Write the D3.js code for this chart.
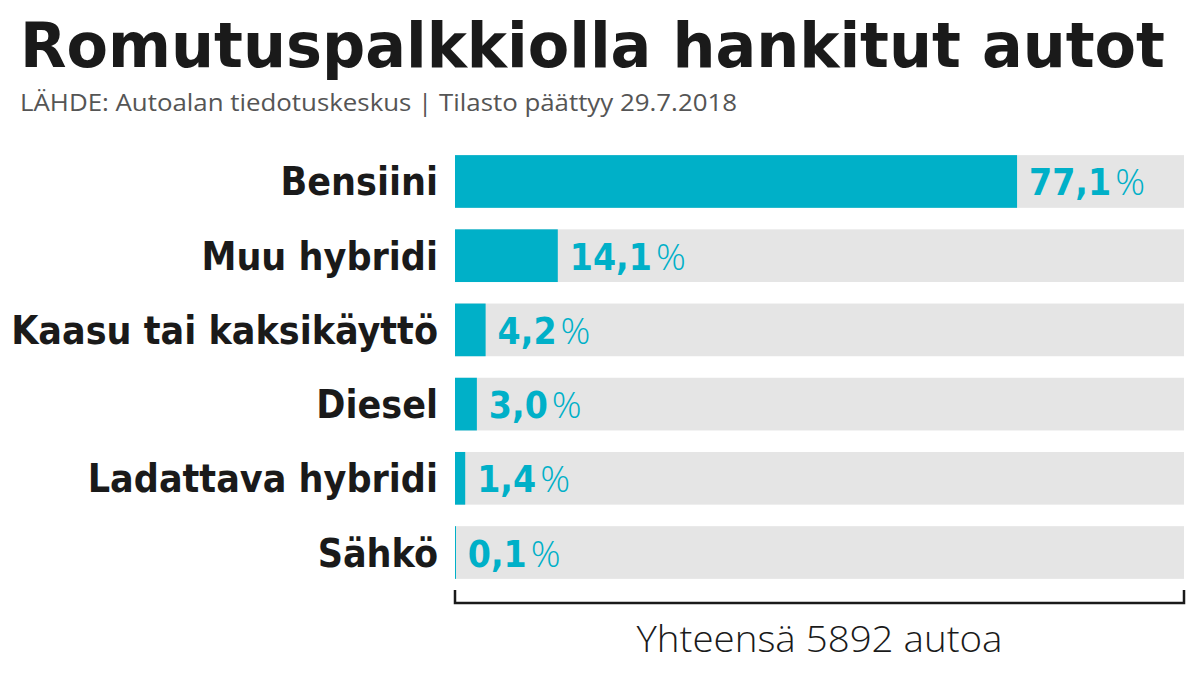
<!DOCTYPE html>
<html><head><meta charset="utf-8">
<script src="https://cdn.jsdelivr.net/npm/d3@7"></script>
<style>body{margin:0;background:#fff}</style></head>
<body><svg id="c" width="1199" height="675"></svg>
<script>
const categories = ["Bensiini","Muu hybridi","Kaasu tai kaksikäyttö","Diesel","Ladattava hybridi","Sähkö"];
const values = [77.1,14.1,4.2,3.0,1.4,0.1];
const valueLabels = ["77,1","14,1","4,2","3,0","1,4","0,1"];
const title = "Romutuspalkkiolla hankitut autot";
const subtitle = "LÄHDE: Autoalan tiedotuskeskus | Tilasto päättyy 29.7.2018";
const total = "Yhteensä 5892 autoa";

const svg = d3.select("#c");
const teal = "#00b0c8";
const x = d3.scaleLinear().domain([0,100]).range([455,1184]);
const y = d3.scaleBand().domain(categories).range([144,590]).paddingInner(0.29).paddingOuter(0.15);

svg.append("text").attr("x",20).attr("y",67).text(title)
  .attr("font-family","DejaVu Sans Condensed").attr("font-weight","bold").attr("font-size",62)
  .attr("fill","#1a1a1a").attr("textLength",1145).attr("lengthAdjust","spacingAndGlyphs");
svg.append("text").attr("x",20).attr("y",111).text(subtitle)
  .attr("font-family","Open Sans").attr("font-size",23).attr("fill","#555")
  .attr("textLength",717).attr("lengthAdjust","spacingAndGlyphs");

const g = svg.append("g");
g.selectAll(".bg").data(categories).join("rect")
  .attr("x",x(0)).attr("width",x(100)-x(0)).attr("y",d=>y(d)).attr("height",y.bandwidth()).attr("fill","#e5e5e5");
g.selectAll(".bar").data(values).join("rect")
  .attr("x",x(0)).attr("width",d=>Math.max(1,x(d)-x(0))).attr("y",(d,i)=>y(categories[i])).attr("height",y.bandwidth()).attr("fill",teal);
g.selectAll(".lab").data(categories).join("text")
  .attr("x",438).attr("y",d=>y(d)+y.bandwidth()/2+14).attr("text-anchor","end").text(d=>d)
  .attr("font-family","DejaVu Sans Condensed").attr("font-weight","bold").attr("font-size",39).attr("fill","#1a1a1a");
const vl = g.selectAll(".val").data(values).join("text")
  .attr("x",d=>x(d)+12).attr("y",(d,i)=>y(categories[i])+y.bandwidth()/2+14)
  .attr("font-family","DejaVu Sans Condensed").attr("font-size",37).attr("fill",teal);
vl.append("tspan").attr("font-weight","bold").text((d,i)=>valueLabels[i]);
vl.append("tspan").attr("font-family","Open Sans").attr("font-weight","300").attr("dx",4).text("%");

svg.append("path").attr("d",`M${x(0)},590 V603 H${x(100)} V590`).attr("fill","none").attr("stroke","#1a1a1a").attr("stroke-width",2.5);
svg.append("text").attr("x",(x(0)+x(100))/2).attr("y",652).attr("text-anchor","middle").text(total)
  .attr("font-family","Open Sans").attr("font-weight","300").attr("font-size",36).attr("fill","#1a1a1a")
  .attr("textLength",366).attr("lengthAdjust","spacingAndGlyphs");
</script></body></html>
